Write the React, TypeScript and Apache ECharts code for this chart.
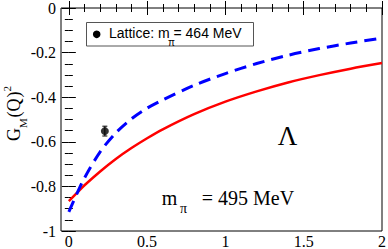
import React, { useEffect, useRef } from "react";
import * as echarts from "echarts";

const qValues = [0, 0.05, 0.1, 0.2, 0.3, 0.4, 0.5, 0.6, 0.8, 1.0, 1.2, 1.4, 1.6, 1.8, 2.0];
const redValues = [-0.866, -0.83, -0.795, -0.733, -0.677, -0.628, -0.584, -0.544, -0.476, -0.42, -0.374, -0.334, -0.301, -0.272, -0.247];
const blueValues = [-0.914, -0.835, -0.762, -0.645, -0.56, -0.497, -0.449, -0.412, -0.347, -0.294, -0.249, -0.212, -0.182, -0.157, -0.135];
const latticeQ = [0.23];
const latticeG = [-0.552];
const latticeErr = [0.022];
const xMajorTicks = [0, 0.5, 1, 1.5, 2];
const xMinorTicks = [0.1, 0.2, 0.3, 0.4, 0.6, 0.7, 0.8, 0.9, 1.1, 1.2, 1.3, 1.4, 1.6, 1.7, 1.8, 1.9];
const xTickLabels = ["0", "0.5", "1", "1.5", "2"];

const SERIF = "Liberation Serif";
const SANS = "Liberation Sans";

export default function App() {
  const ref = useRef<HTMLDivElement>(null);
  useEffect(() => {
    if (!ref.current) return;
    const chart = echarts.init(ref.current, undefined, { renderer: "svg" });
    const xmin = -0.05, xmax = 2, ymin = -1, ymax = 0;
    const mkX = (pos: string, vals: number[], len: number) => ({
      type: "value", position: pos, min: xmin, max: xmax,
      axisLine: { show: false },
      splitLine: { show: false },
      axisTick: { show: true, inside: true, length: len, customValues: vals, lineStyle: { color: "#000" } },
      axisLabel: { show: false },
    });
    const mkY = (pos: string, labels: boolean) => ({
      type: "value", position: pos, min: ymin, max: ymax, interval: 0.2,
      axisLine: { show: false },
      splitLine: { show: false },
      axisTick: { show: true, inside: true, length: 7, lineStyle: { color: "#000" } },
      minorTick: { show: true, splitNumber: 4, length: 4, lineStyle: { color: "#000" } },
      axisLabel: labels
        ? { show: true, fontFamily: SERIF, fontSize: 16, color: "#000", margin: 5 }
        : { show: false },
    });
    chart.setOption({
      animation: false,
      textStyle: { fontFamily: SERIF },
      grid: { left: 61, top: 7, width: 321, height: 224, show: true, borderColor: "#000", borderWidth: 1, backgroundColor: "transparent" },
      xAxis: [
        mkX("bottom", xMajorTicks, 7),
        mkX("bottom", xMinorTicks, 4),
        mkX("top", xMajorTicks, 7),
        mkX("top", xMinorTicks, 4),
      ],
      yAxis: [mkY("left", true), mkY("right", false)],
      series: [
        {
          type: "line", xAxisIndex: 0, yAxisIndex: 0, showSymbol: false, smooth: 0.3,
          data: qValues.map((q, i) => [q, redValues[i]]),
          lineStyle: { color: "#ff0000", width: 2.5 },
        },
        {
          type: "line", xAxisIndex: 0, yAxisIndex: 0, showSymbol: false, smooth: 0.3,
          data: qValues.map((q, i) => [q, blueValues[i]]),
          lineStyle: { color: "#0000ff", width: 3, type: [12, 7] },
        },
        {
          type: "custom", xAxisIndex: 0, yAxisIndex: 0,
          data: latticeQ.map((q, i) => [q, latticeG[i], latticeErr[i]]),
          renderItem: (params: any, api: any) => {
            const x = api.value(0), y = api.value(1), e = api.value(2);
            const top = api.coord([x, y + e]);
            const bot = api.coord([x, y - e]);
            const c = 2.5;
            const st = { stroke: "#000", lineWidth: 1 };
            return {
              type: "group",
              children: [
                { type: "line", shape: { x1: top[0], y1: top[1], x2: bot[0], y2: bot[1] }, style: st },
                { type: "line", shape: { x1: top[0] - c, y1: top[1], x2: top[0] + c, y2: top[1] }, style: st },
                { type: "line", shape: { x1: bot[0] - c, y1: bot[1], x2: bot[0] + c, y2: bot[1] }, style: st },
              ],
            };
          },
        },
        {
          type: "scatter", xAxisIndex: 0, yAxisIndex: 0, symbol: "circle", symbolSize: 8,
          data: latticeQ.map((q, i) => [q, latticeG[i]]),
          itemStyle: { color: "#000" },
        },
      ],
      graphic: [
        { type: "rect", shape: { x: 86.5, y: 22.5, width: 167, height: 23.5 }, style: { fill: "#fff", stroke: "#555", lineWidth: 1 }, z: 10 },
        { type: "circle", shape: { cx: 96.7, cy: 34.3, r: 3.8 }, style: { fill: "#000" }, z: 11 },
        { type: "text", x: 109, y: 32.5, style: { text: "Lattice: m", font: `14px ${SANS}`, fill: "#000", verticalAlign: "middle", align: "left", lineHeight: 12 }, z: 11 },
        { type: "text", x: 168, y: 42, style: { text: "π", font: `10px ${SANS}`, fill: "#000", verticalAlign: "middle", align: "left", lineHeight: 8 }, z: 11 },
        { type: "text", x: 173.5, y: 32.5, style: { text: "= 464 MeV", font: `14px ${SANS}`, fill: "#000", verticalAlign: "middle", align: "left", lineHeight: 12 }, z: 11 },
        { type: "text", x: 287.5, y: 135.5, style: { text: "Λ", font: `27px ${SERIF}`, fill: "#000", verticalAlign: "middle", align: "center" }, z: 11 },
        { type: "text", x: 161.7, y: 198, style: { text: "m", font: `20px ${SERIF}`, fill: "#000", verticalAlign: "middle", align: "left", lineHeight: 16 }, z: 11 },
        { type: "text", x: 180, y: 208.5, style: { text: "π", font: `14px ${SERIF}`, fill: "#000", verticalAlign: "middle", align: "left", lineHeight: 10 }, z: 11 },
        { type: "text", x: 201.7, y: 198, style: { text: "= 495 MeV", font: `20px ${SERIF}`, fill: "#000", verticalAlign: "middle", align: "left", lineHeight: 16 }, z: 11 },
        {
          type: "group", x: 20, y: 141, rotation: Math.PI / 2, z: 11,
          children: [
            { type: "text", x: 0, y: -6, style: { text: "G", font: `18px ${SERIF}`, fill: "#000", verticalAlign: "middle", align: "left", lineHeight: 14 } },
            { type: "text", x: 13, y: 3, style: { text: "M", font: `11px ${SERIF}`, fill: "#000", verticalAlign: "middle", align: "left", lineHeight: 9 } },
            { type: "text", x: 23.5, y: -6, style: { text: "(Q", font: `18px ${SERIF}`, fill: "#000", verticalAlign: "middle", align: "left", lineHeight: 14 } },
            { type: "text", x: 43.5, y: -6, style: { text: ")", font: `18px ${SERIF}`, fill: "#000", verticalAlign: "middle", align: "left", lineHeight: 14 } },
            { type: "text", x: 49.5, y: -13, style: { text: "2", font: `11px ${SERIF}`, fill: "#000", verticalAlign: "middle", align: "left", lineHeight: 9 } },
          ],
        },
      ],
    });
    chart.setOption({
      graphic: xMajorTicks.map((v, i) => ({
        type: "text",
        id: "xl" + i,
        x: chart.convertToPixel({ xAxisIndex: 0 }, v) as number,
        y: 234,
        style: { text: xTickLabels[i], font: `16px ${SERIF}`, fill: "#000", align: "center", verticalAlign: "top", lineHeight: 15 },
        z: 11,
      })),
    });
    return () => chart.dispose();
  }, []);
  return <div ref={ref} style={{ width: 388, height: 249, position: "absolute", left: 0, top: 0 }} />;
}
